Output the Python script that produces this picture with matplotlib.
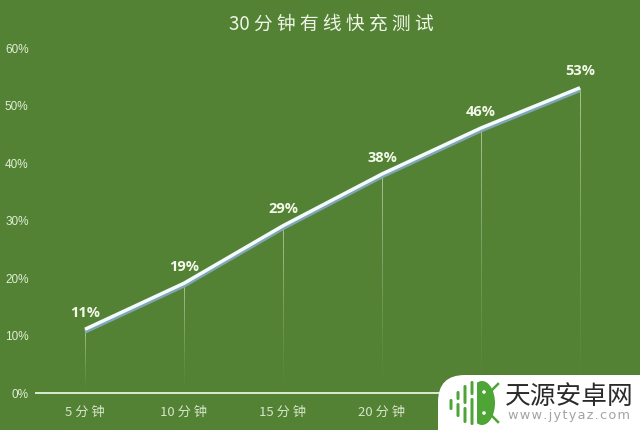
import matplotlib
matplotlib.use('Agg')
import matplotlib.pyplot as plt
import numpy as np
from matplotlib.collections import LineCollection
from matplotlib.patches import FancyBboxPatch, Circle, Ellipse, Rectangle

plt.rcParams['font.family'] = ['Noto Sans CJK SC', 'DejaVu Sans']

# chart data
categories = ['5分钟', '10分钟', '15分钟', '20分钟', '25分钟', '30分钟']
visible_labels = ['5 分 钟', '10 分 钟', '15 分 钟', '20 分 钟', '', '']  # last two sit under the watermark
values = [11, 19, 29, 38, 46, 53]
y_ticks = [0, 10, 20, 30, 40, 50, 60]
title = '30 分 钟 有 线 快 充 测 试'

BG = '#548235'
W, H = 640, 431

fig = plt.figure(figsize=(W / 100, H / 100), dpi=100, facecolor=BG)
ax = fig.add_axes([35.5 / W, 1 - 393.5 / H, 594 / W, 345 / H], facecolor=BG)
x = np.arange(len(categories))
ax.set_xlim(-0.5, 5.5)
ax.set_ylim(0, 60)

for s in ['top', 'left', 'right']:
    ax.spines[s].set_visible(False)
ax.spines['bottom'].set_color('#dcebd0')
ax.spines['bottom'].set_linewidth(1.4)
ax.tick_params(length=0)
ax.set_yticks(y_ticks)
ax.set_yticklabels([f'{v}%' for v in y_ticks], color='#e0eed6', fontsize=8.5,
                   family=['Liberation Sans'])
ax.tick_params(axis='y', pad=5)
ax.set_xticks(x)
ax.set_xticklabels(visible_labels, color='#d5e5c8', fontsize=9.5, fontweight='light')
ax.tick_params(axis='x', pad=9)

# drop lines fade out towards the axis
for xi, v in zip(x, values):
    ys = np.linspace(0, v, 31)
    segs = [[(xi, ys[i]), (xi, ys[i + 1])] for i in range(30)]
    alphas = np.linspace(0.0, 0.7, 30) ** 1.3
    lc = LineCollection(segs, colors=[(0.85, 0.93, 0.8, a) for a in alphas], linewidths=0.7)
    ax.add_collection(lc)

# shadow then main line
ax.plot(x, np.array(values) - 0.4, color='#7fa6b5', lw=3, solid_capstyle='butt', zorder=3)
ax.plot(x, values, color='#f4fbfd', lw=2.5, solid_capstyle='butt', zorder=4)

for xi, v in zip(x, values):
    ax.annotate(f'{v}%', (xi, v), xytext=(0, 7.5), textcoords='offset points', ha='center',
                va='bottom', color='#f2f8ea', fontsize=10.5, fontweight='bold',
                family=['Open Sans', 'DejaVu Sans'])

fig.text(331 / W, 1 - 24 / H, title, ha='center', va='center',
         color='#eef5e6', fontsize=13.5)

# watermark, drawn in pixel coordinates
ov = fig.add_axes([0, 0, 1, 1], facecolor='none')
ov.set_xlim(0, W)
ov.set_ylim(H, 0)
ov.axis('off')
ov.add_patch(FancyBboxPatch((438, 376), 250, 90, boxstyle='round,pad=0,rounding_size=27',
                            fc='white', ec='white', lw=0))
green = '#4ea536'
# logo stripes, each broken in two
for bx, y0, y1 in [(451, 400, 411), (458, 392, 401), (458, 404, 418), (465, 386, 405),
                   (465, 408, 424)]:
    ov.add_patch(FancyBboxPatch((bx - 1.5, y0), 3, y1 - y0, boxstyle='round,pad=0,rounding_size=1.5',
                                fc=green, ec='none'))
ov.add_patch(Ellipse((482, 404), 26, 44, fc=green, ec='none'))
ov.add_patch(Rectangle((469, 380), 7.5, 48, fc='white', ec='none', zorder=1.5))
for bx, y0, y1 in [(472, 382, 396), (472, 399, 426)]:
    ov.add_patch(FancyBboxPatch((bx - 1.5, y0), 3, y1 - y0, boxstyle='round,pad=0,rounding_size=1.5',
                                fc=green, ec='none', zorder=2))
ov.add_patch(Circle((484, 393), 1.8, fc='white', ec='none', zorder=3))
ov.add_patch(Circle((484, 414), 1.8, fc='white', ec='none', zorder=3))
ov.plot([492, 498], [391, 385], color=green, lw=1.8)
ov.plot([492, 498], [417, 423], color=green, lw=1.8)
ov.text(569.5, 397, '天源安卓网', ha='center', va='center', color='#2b2b2b', fontsize=18.5,
        fontweight='medium')
ov.text(569.5, 416, '\u200a'.join('www.jytyaz.com'), ha='center', va='center', color='#a3a3a3',
        fontsize=9.3, family=['DejaVu Sans'])

fig.savefig('out.png', dpi=100, facecolor=BG)
